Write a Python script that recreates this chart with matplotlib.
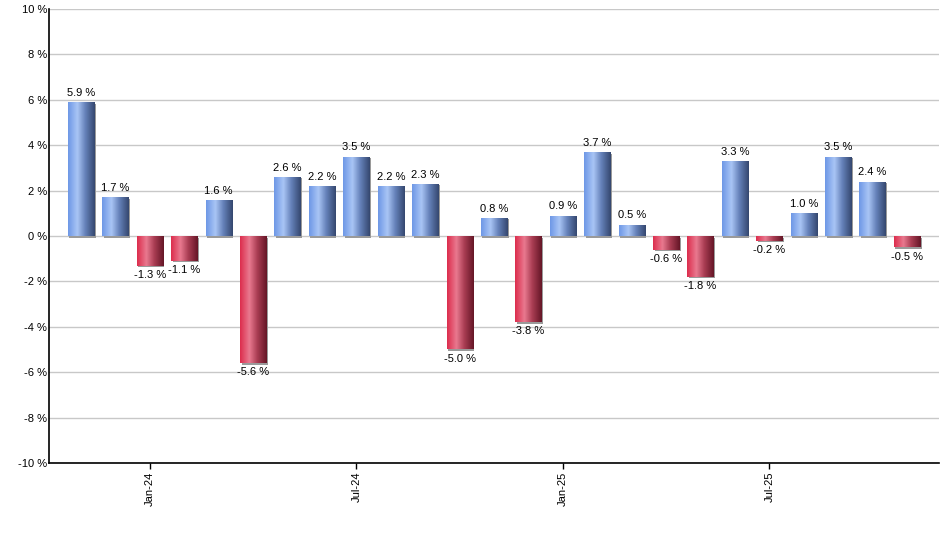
import numpy as np
import matplotlib
matplotlib.use("Agg")
import matplotlib.pyplot as plt
from matplotlib.colors import LinearSegmentedColormap
import matplotlib.transforms as mtransforms

plt.rcParams['font.family'] = ['Liberation Sans', 'DejaVu Sans']

months = ["Nov-23", "Dec-23", "Jan-24", "Feb-24", "Mar-24", "Apr-24", "May-24", "Jun-24",
          "Jul-24", "Aug-24", "Sep-24", "Oct-24", "Nov-24", "Dec-24", "Jan-25", "Feb-25",
          "Mar-25", "Apr-25", "May-25", "Jun-25", "Jul-25", "Aug-25", "Sep-25", "Oct-25", "Nov-25"]
values = [5.9, 1.7, -1.3, -1.1, 1.6, -5.6, 2.6, 2.2, 3.5, 2.2, 2.3, -5.0, 0.8, -3.8,
          0.9, 3.7, 0.5, -0.6, -1.8, 3.3, -0.2, 1.0, 3.5, 2.4, -0.5]
tick_labels = ["Jan-24", "Jul-24", "Jan-25", "Jul-25"]
yticks = list(range(-10, 11, 2))

blue_cmap = LinearSegmentedColormap.from_list(
    "b", [(0, "#6d97e6"), (0.35, "#a9c5f5"), (0.65, "#6480b8"), (1, "#34476e")])
red_cmap = LinearSegmentedColormap.from_list(
    "r", [(0, "#dc2c4c"), (0.35, "#e9798f"), (0.65, "#a83c52"), (1, "#641626")])

fig = plt.figure(figsize=(9.4, 5.5), dpi=100)
ax = fig.add_axes([49/940, 87/550, 1 - 49/940 - 1/940, (463 - 9)/550])

x = np.arange(len(values))
width = 0.76
bars = ax.bar(x, values, width=width, color="none", zorder=3)

grad = np.linspace(0, 1, 256).reshape(1, -1)
shadow_tr = ax.transData + mtransforms.ScaledTranslation(1.5/100, -1.5/100, fig.dpi_scale_trans)
for b, v in zip(bars, values):
    x0 = b.get_x()
    w = b.get_width()
    y0, y1 = (0, v) if v >= 0 else (v, 0)
    sh = plt.Rectangle((x0, y0), w, y1 - y0, facecolor="#9a9a9a", edgecolor="none", zorder=2)
    ax.add_patch(sh)
    sh.set_transform(shadow_tr)
    im = ax.imshow(grad, cmap=blue_cmap if v >= 0 else red_cmap, aspect="auto",
                   extent=(x0, x0 + w, y0, y1), zorder=3, interpolation="bilinear")
    im.set_clip_path(b)
    lab = f"{v:.1f} %"
    if v >= 0:
        ax.annotate(lab, (x0 + w/2, v), xytext=(0, 3), textcoords="offset points",
                    ha="center", va="bottom", fontsize=8, zorder=4)
    else:
        ax.annotate(lab, (x0 + w/2, v), xytext=(0, -3), textcoords="offset points",
                    ha="center", va="top", fontsize=8, zorder=4)

ax.set_xlim(-0.93, 24.93)
ax.set_ylim(-10, 10)
ax.set_yticks(yticks)
ax.set_yticklabels([f"{t} %" for t in yticks], fontsize=8)
ax.set_xticks([months.index(t) for t in tick_labels])
ax.set_xticklabels(tick_labels, rotation=90, fontsize=8)
ax.grid(axis="y", color="#c8c8c8", linewidth=1, zorder=0)
ax.set_axisbelow(True)
for s in ["top", "right"]:
    ax.spines[s].set_visible(False)
ax.spines["left"].set_linewidth(1.2)
ax.spines["bottom"].set_linewidth(1.2)
ax.tick_params(axis="y", length=0, pad=1.5)
ax.tick_params(axis="x", length=4, width=1, pad=2)

fig.savefig("out.png", dpi=100)
